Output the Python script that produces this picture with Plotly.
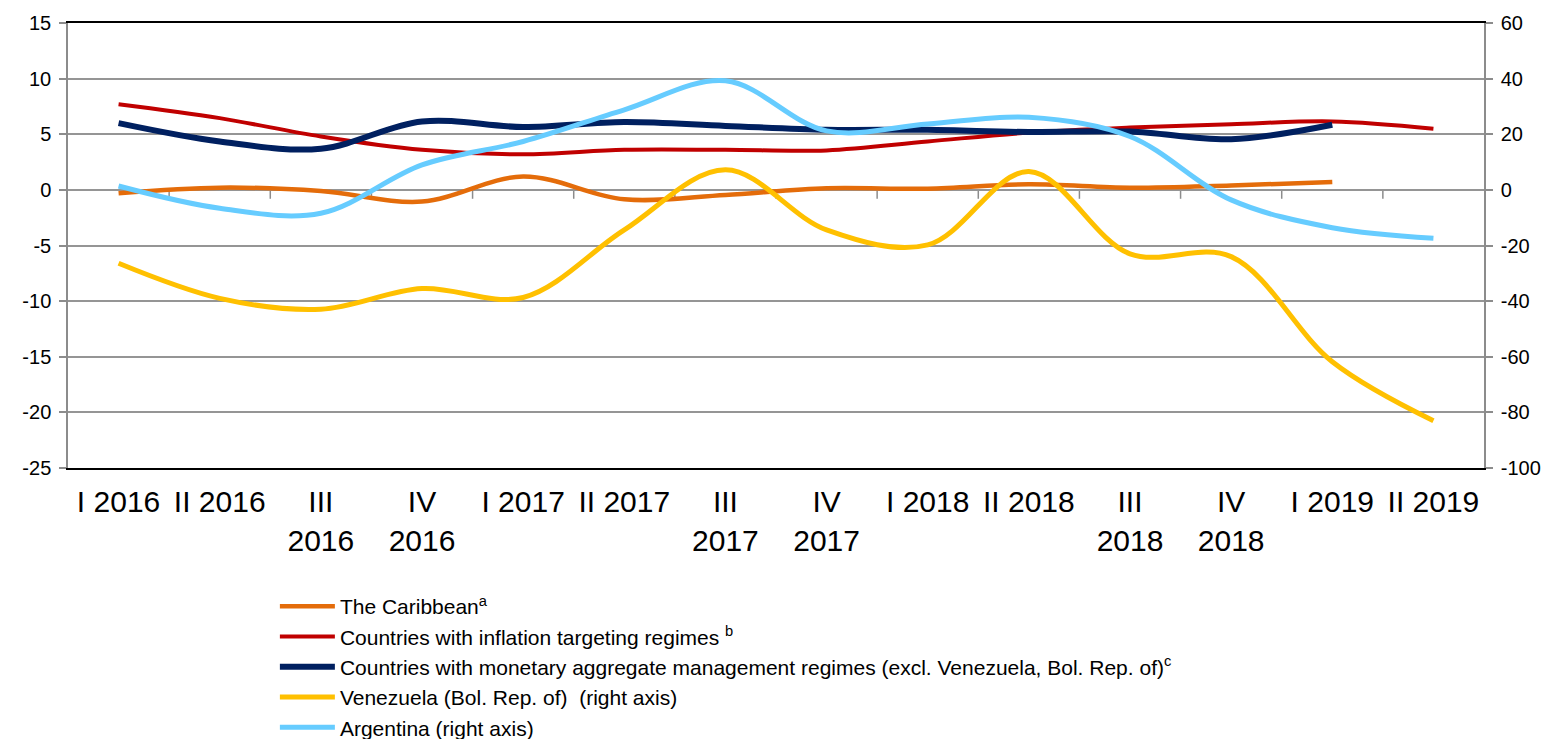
import plotly.graph_objects as go

quarters = ["I 2016", "II 2016", "III 2016", "IV 2016", "I 2017", "II 2017", "III 2017",
            "IV 2017", "I 2018", "II 2018", "III 2018", "IV 2018", "I 2019", "II 2019"]
tick_labels = ["I 2016", "II 2016", "III<br>2016", "IV<br>2016", "I 2017", "II 2017", "III<br>2017",
               "IV<br>2017", "I 2018", "II 2018", "III<br>2018", "IV<br>2018", "I 2019", "II 2019"]
left_ticks = [-25, -20, -15, -10, -5, 0, 5, 10, 15]
right_ticks = [-100, -80, -60, -40, -20, 0, 20, 40, 60]

caribbean = [-0.3, 0.2, -0.1, -1.05, 1.2, -0.85, -0.45, 0.15, 0.1, 0.5, 0.2, 0.4, 0.7, None]
inflation_targeting = [7.7, 6.45, 4.8, 3.6, 3.2, 3.6, 3.6, 3.55, 4.35, 5.15, 5.6, 5.9, 6.15, 5.5]
monetary_aggregate = [6.0, 4.35, 3.7, 6.15, 5.65, 6.1, 5.75, 5.4, 5.4, 5.2, 5.25, 4.55, 5.85, None]
venezuela = [-26.4, -39.0, -42.9, -35.5, -38.7, -14.4, 7.2, -14.4, -19.8, 6.6, -23.0, -24.0, -61.8, -83.0]
argentina = [1.4, -6.6, -8.4, 9.0, 17.4, 28.8, 39.2, 21.2, 23.7, 26.1, 19.2, -3.6, -13.6, -17.4]

series = [
    ("The Caribbean<sup>a</sup>", caribbean, "#E46C0A", 4.5, "y"),
    ("Countries with inflation targeting regimes <sup>b</sup>", inflation_targeting, "#C00000", 4, "y"),
    ("Countries with monetary aggregate management regimes (excl. Venezuela, Bol. Rep. of)<sup>c</sup>",
     monetary_aggregate, "#002060", 6, "y"),
    ("Venezuela (Bol. Rep. of)  (right axis)", venezuela, "#FFC000", 5, "y2"),
    ("Argentina (right axis)", argentina, "#66CCFF", 5, "y2"),
]

FONT = "Arial, Liberation Sans, sans-serif"
fig = go.Figure()
for name, vals, color, w, ax in series:
    fig.add_trace(go.Scatter(
        x=quarters, y=vals, name=name, yaxis=ax, mode="lines",
        line=dict(color=color, width=w, shape="spline", smoothing=1),
        connectgaps=False,
    ))

# category-boundary tick marks hanging from the zero line
shapes = []
for i in range(len(quarters) - 1):
    shapes.append(dict(type="line", xref="x", yref="y", x0=i + 0.5, x1=i + 0.5,
                       y0=0, y1=-0.8, line=dict(color="#8c8c8c", width=1.5), layer="below"))

fig.update_layout(
    width=1553, height=739,
    margin=dict(l=68, r=69, t=23, b=271, autoexpand=False),
    paper_bgcolor="white", plot_bgcolor="white",
    font=dict(family=FONT, color="black"),
    showlegend=True,
    legend=dict(
        xref="container", yref="container", x=0.177, y=1 - 586 / 739,
        xanchor="left", yanchor="top",
        font=dict(size=21, family=FONT, color="black"),
        itemwidth=55, tracegroupgap=0, bgcolor="rgba(0,0,0,0)",
        traceorder="normal",
    ),
    xaxis=dict(
        type="category", range=[-0.5, len(quarters) - 0.5],
        tickmode="array", tickvals=quarters, ticktext=tick_labels, tickangle=0,
        tickfont=dict(size=30, family=FONT, color="black"),
        showgrid=False, ticks="", showline=True, linecolor="black", linewidth=2,
        mirror=True, zeroline=False, ticklabelstandoff=6,
    ),
    yaxis=dict(
        range=[-25, 15], tickmode="array", tickvals=left_ticks,
        ticktext=[str(v) for v in left_ticks],
        showgrid=True, gridcolor="#959595", gridwidth=1.5,
        zeroline=False, showline=True, linecolor="#8c8c8c", linewidth=1.5,
        ticks="outside", ticklen=7, tickcolor="#8c8c8c", tickwidth=1.5,
        tickfont=dict(size=20, family=FONT, color="black"),
        ticklabelstandoff=4,
    ),
    yaxis2=dict(
        range=[-100, 60], tickmode="array", tickvals=right_ticks,
        ticktext=[str(v) for v in right_ticks], overlaying="y", side="right",
        showgrid=False, zeroline=False, showline=True, linecolor="#8c8c8c", linewidth=1.5,
        ticks="outside", ticklen=7, tickcolor="#8c8c8c", tickwidth=1.5,
        tickfont=dict(size=20, family=FONT, color="black"),
        ticklabelstandoff=4,
    ),
    shapes=shapes,
)

fig.write_html("out.html", config={"displayModeBar": False},
               post_script="document.body.style.margin='0';document.body.style.overflow='hidden';")
